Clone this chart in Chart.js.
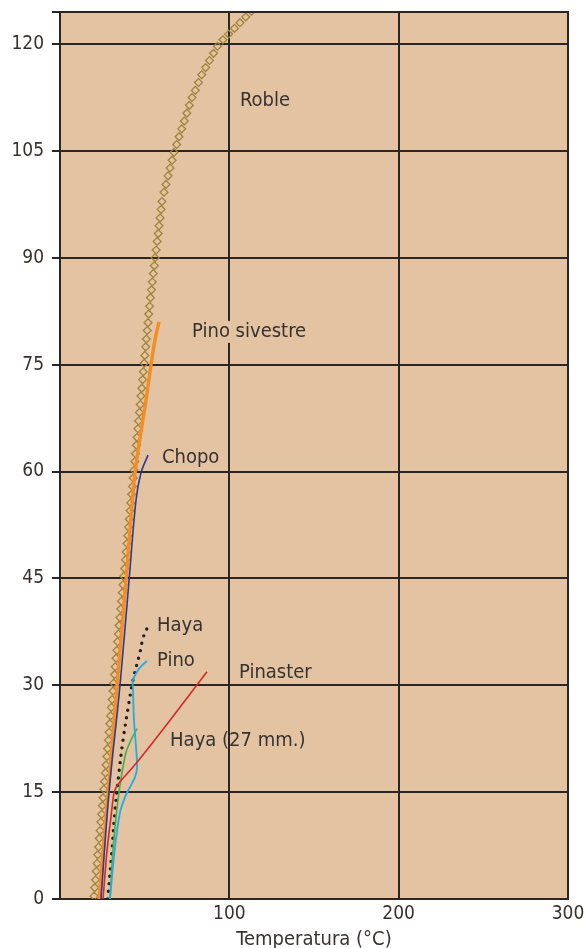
<!DOCTYPE html>
<html>
<head>
<meta charset="utf-8">
<script src="https://cdn.jsdelivr.net/npm/chart.js@4/dist/chart.umd.min.js"></script>
<style>
  html, body { margin: 0; padding: 0; background: #ffffff; }
  #wrap { position: relative; width: 587px; height: 948px; }
</style>
</head>
<body>
<div id="wrap"><canvas id="c"></canvas></div>
<script>
// ---- Data ----
const xTicks = [0, 100, 200, 300];
const yTicks = [0, 15, 30, 45, 60, 75, 90, 105, 120];
const xTitle = 'Temperatura (°C)';

// Roble (diamond markers)
const robleX = [20.1,20.5,21.0,21.4,21.9,22.3,22.8,23.2,23.7,24.1,24.6,25.0,25.4,25.9,26.3,26.8,27.2,27.7,28.1,28.6,29.0,29.4,29.9,30.3,30.8,
  31.3,31.7,32.2,32.6,33.1,33.6,34.0,34.5,34.9,35.4,35.9,36.3,36.8,37.2,37.7,38.2,38.6,39.1,39.6,40.0,40.5,40.9,41.4,41.8,42.3,42.8,43.2,43.7,44.2,44.6,45.1,45.5,46.0,46.4,46.9,47.4,47.8,48.3,48.8,49.2,49.7,50.1,50.6,51.0,51.5,52.0,52.4,52.9,53.4,
  54.0,54.5,55.1,55.7,56.2,56.8,57.4,58.0,58.5,59.1,59.7,60.2,
  61.4,62.6,63.8,65.0,66.2,67.3,68.9,70.3,71.9,73.4,74.9,76.4,78.0,79.9,81.8,83.7,86.0,88.3,90.7,93.0,96.2,99.6,103.0,106.3,109.7,113.1];
const robleY = [0.4,1.6,2.7,3.9,5.0,6.2,7.3,8.5,9.6,10.8,11.9,13.1,14.2,15.4,16.5,17.7,18.8,20.0,21.1,22.3,23.4,24.6,25.7,26.9,28.0,
  29.2,30.3,31.5,32.6,33.8,34.9,36.1,37.2,38.4,39.5,40.7,41.8,43.0,44.1,45.3,46.4,47.6,48.7,49.9,51.0,52.2,53.3,54.5,55.6,56.8,57.9,59.1,60.2,61.4,62.5,63.7,64.8,66.0,67.1,68.3,69.4,70.6,71.7,72.9,74.0,75.2,76.3,77.5,78.6,79.8,80.9,82.1,83.2,84.4,
  85.5,86.6,87.8,88.9,90.0,91.1,92.3,93.4,94.5,95.6,96.8,97.9,
  99.2,100.3,101.5,102.6,103.7,104.8,105.9,107.0,108.1,109.2,110.3,111.4,112.5,113.5,114.6,115.7,116.7,117.7,118.7,119.7,120.6,121.4,122.2,123.0,123.8,124.6];

// Pino sivestre (orange)
const pinoSilvX = [23.0, 28.4, 33.7, 39.0, 44.3, 50.8, 53.7, 56.1, 58.5];
const pinoSilvY = [0, 14.9, 29.9, 44.8, 59.8, 70.0, 74.9, 78.5, 81.0];

// Chopo (dark blue)
const chopoX = [24.2, 28.9, 35.4, 40.8, 44.9, 47.8, 52.0];
const chopoY = [0, 14.9, 29.9, 44.8, 56.0, 59.8, 62.3];

// Haya (black dotted)
const hayaX = [28.2, 30.7, 32.5, 34.8, 37.2, 40.2, 43.1, 47.3, 49.0, 51.4];
const hayaY = [0, 6.9, 12.5, 17.7, 22.3, 26.8, 30.7, 34.7, 36.6, 38.0];

// Pino (cyan)
const pinoX = [29.5, 32.5, 35.4, 38.4, 41.3, 44.3, 45.5, 44.9, 43.7, 43.1, 43.1, 45.5, 48.4, 51.4];
const pinoY = [0, 7.3, 12.1, 14.3, 15.7, 17.1, 18.5, 21.3, 25.1, 29.3, 30.7, 31.9, 32.8, 33.4];

// Haya (27 mm.) (green)
const haya27X = [29.5, 31.3, 33.1, 34.8, 36.6, 39.0, 41.9, 45.5];
const haya27Y = [0, 6.9, 11.5, 14.9, 17.7, 20.6, 22.3, 23.9];

// Pinaster (red)
const pinasterX = [25.4, 27.8, 30.1, 31.9, 33.7, 36.0, 45.5, 65.0, 86.8];
const pinasterY = [0, 6.9, 11.5, 14.9, 15.9, 16.6, 19.2, 25.1, 31.9];

// Series labels (anchor in data units: left edge, vertical centre)
const labelTexts = ['Roble', 'Pino sivestre', 'Chopo', 'Haya', 'Pino', 'Pinaster', 'Haya (27 mm.)'];
const labelX = [106.3, 78.0, 60.2, 57.3, 57.3, 105.7, 65.0];
const labelY = [112.1, 79.6, 61.9, 38.3, 33.5, 31.7, 22.2];

// ---- helpers ----
const zip = (xs, ys) => xs.map((x, i) => ({ x: x, y: ys[i] }));

const FONT = "'DejaVu Sans Condensed', 'Liberation Sans Narrow', sans-serif";
const TEXT = '#363230';
const GRID = '#2a2624';
const BG = '#e3c3a1';

const bgPlugin = {
  id: 'areaBg',
  beforeDraw(chart) {
    const { ctx, chartArea: a } = chart;
    ctx.save();
    ctx.fillStyle = BG;
    ctx.fillRect(a.left, a.top, a.right - a.left, a.bottom - a.top);
    ctx.restore();
  },
  afterDraw(chart) {
    const { ctx, chartArea: a } = chart;
    ctx.save();
    ctx.strokeStyle = GRID;
    ctx.lineWidth = 2;
    ctx.beginPath();
    ctx.moveTo(a.left - 8, a.top);
    ctx.lineTo(a.right + 1, a.top);
    ctx.stroke();
    ctx.restore();
  }
};

const labelPlugin = {
  id: 'seriesLabels',
  afterDatasetsDraw(chart) {
    const { ctx, scales } = chart;
    ctx.save();
    ctx.font = '20px ' + FONT;
    ctx.textBaseline = 'middle';
    ctx.textAlign = 'left';
    labelTexts.forEach((t, i) => {
      const px = scales.x.getPixelForValue(labelX[i]);
      const py = scales.y.getPixelForValue(labelY[i]);
      if (t === 'Pino sivestre') {
        const w = ctx.measureText(t).width;
        ctx.fillStyle = BG;
        ctx.fillRect(px - 2, py - 11, w + 4, 22);
      }
      ctx.fillStyle = TEXT;
      ctx.fillText(t, px, py);
    });
    ctx.restore();
  }
};

new Chart(document.getElementById('c'), {
  type: 'line',
  data: {
    datasets: [
      { label: 'Pinaster', data: zip(pinasterX, pinasterY), borderColor: '#d42a2a', borderWidth: 1.6, tension: 0.25, pointRadius: 0, order: 1 },
      { label: 'Pino', data: zip(pinoX, pinoY), borderColor: '#1eaee2', borderWidth: 1.8, tension: 0.35, pointRadius: 0, order: 2 },
      { label: 'Haya (27 mm.)', data: zip(haya27X, haya27Y), borderColor: '#45ad4a', borderWidth: 1.6, tension: 0.35, pointRadius: 0, order: 3 },
      { label: 'Haya', data: zip(hayaX, hayaY), borderColor: '#231f20', borderWidth: 3.4, borderDash: [0, 7.6], borderCapStyle: 'round', tension: 0.35, pointRadius: 0, order: 4 },
      { label: 'Chopo', data: zip(chopoX, chopoY), borderColor: '#2b3a92', borderWidth: 1.6, tension: 0.35, pointRadius: 0, order: 5 },
      { label: 'Pino sivestre', data: zip(pinoSilvX, pinoSilvY), borderColor: '#f68d23', borderWidth: 3.4, tension: 0.3, pointRadius: 0, order: 6 },
      { label: 'Roble', data: zip(robleX, robleY), showLine: false, pointStyle: 'rectRot', pointRadius: 3.9, pointBorderWidth: 1.3, pointBorderColor: '#a0843c', pointBackgroundColor: 'rgba(0,0,0,0)', order: 7 }
    ]
  },
  options: {
    responsive: true,
    maintainAspectRatio: false,
    animation: false,
    events: [],
    layout: { padding: { top: 12, right: 19, left: 0, bottom: 0 } },
    plugins: { legend: { display: false }, tooltip: { enabled: false } },
    scales: {
      x: {
        type: 'linear',
        min: xTicks[0],
        max: xTicks[xTicks.length - 1],
        afterBuildTicks: (s) => { s.ticks = xTicks.map(v => ({ value: v })); },
        afterFit: (s) => { s.height = 49; s.paddingLeft = 0; s.paddingRight = 0; },
        ticks: {
          padding: 4,
          color: TEXT,
          font: { family: FONT, size: 19 },
          callback: (v) => (v === 0 ? '' : String(v))
        },
        grid: { color: GRID, lineWidth: 2, drawTicks: false },
        border: { color: GRID, width: 2 },
        title: {
          display: true,
          text: xTitle,
          color: TEXT,
          font: { family: FONT, size: 20, lineHeight: 0.8 },
          padding: 0
        }
      },
      y: {
        type: 'linear',
        min: 0,
        max: 124.5,
        afterBuildTicks: (s) => { s.ticks = yTicks.map(v => ({ value: v })).concat([{ value: 124.5 }]); },
        afterFit: (s) => { s.width = 60; s.paddingTop = 0; s.paddingBottom = 0; },
        ticks: {
          padding: 8,
          color: TEXT,
          font: { family: FONT, size: 19 },
          callback: (v) => (yTicks.includes(v) ? String(v) : '')
        },
        grid: { color: GRID, lineWidth: 2, tickLength: 8, drawTicks: true },
        border: { color: GRID, width: 2 }
      }
    }
  },
  plugins: [bgPlugin, labelPlugin]
});
</script>
</body>
</html>
